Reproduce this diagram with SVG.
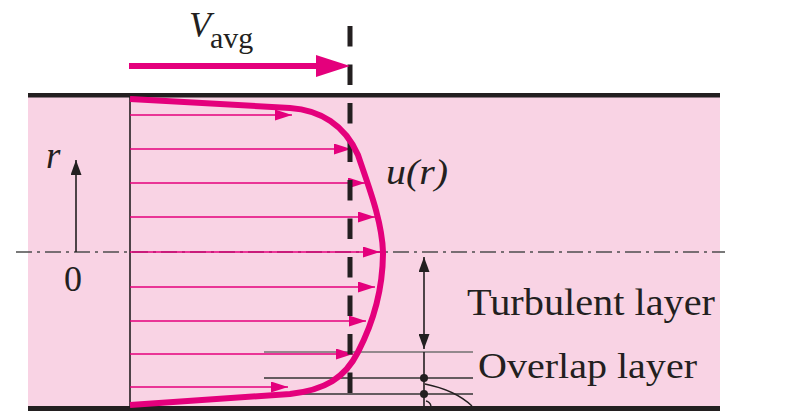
<svg xmlns="http://www.w3.org/2000/svg" width="792" height="411" viewBox="0 0 792 411">
<defs>
<style>
.txt{font-family:"Liberation Serif","Times New Roman",serif;fill:#231F20}
.it{font-style:italic}
.vel{stroke:#E4007C;stroke-width:1.6;fill:none}
.blk{stroke:#231F20;fill:none}
</style>
<marker id="mh" viewBox="0 0 17 11" refX="17" refY="5.5" markerWidth="17" markerHeight="11" markerUnits="userSpaceOnUse" orient="auto">
<path d="M0,0 L17,5.5 L0,11 Z" fill="#E4007C"/>
</marker>
<marker id="bh" viewBox="0 0 15 11" refX="15" refY="5.5" markerWidth="15" markerHeight="11" markerUnits="userSpaceOnUse" orient="auto">
<path d="M0,0 L15,5.5 L0,11 Z" fill="#231F20"/>
</marker>
</defs>
<rect width="792" height="411" fill="#FFFFFF"/>
<g id="pipe">
<rect x="28" y="97" width="692" height="310" fill="#F9D3E4"/>
<rect x="28" y="93" width="692" height="4.5" fill="#231F20"/>
<rect x="28" y="406" width="692" height="5" fill="#231F20"/>
<line x1="130" y1="97" x2="130" y2="406" stroke="#231F20" stroke-width="1.6"/>
<line x1="16" y1="252" x2="725" y2="252" stroke="#4d4d4d" stroke-width="1.4" stroke-dasharray="16 5 3 5"/>
</g>
<g id="layers">
<line x1="264" y1="352" x2="473" y2="352" stroke="#707070" stroke-width="1.6"/>
<line x1="264" y1="378" x2="473" y2="378" stroke="#333" stroke-width="1.6"/>
<line x1="264" y1="394" x2="473" y2="394" stroke="#333" stroke-width="1.6"/>
<path d="M425,384 Q455,390 472,406" class="blk" stroke-width="1.4"/>
<path d="M426,401 Q430,402 431,406" class="blk" stroke-width="1.4"/>
</g>
<g id="connectors">
<line x1="130" y1="115" x2="292" y2="115" class="vel" marker-end="url(#mh)"/>
<line x1="130" y1="149" x2="351" y2="149" class="vel" marker-end="url(#mh)"/>
<line x1="130" y1="183" x2="365" y2="183" class="vel" marker-end="url(#mh)"/>
<line x1="130" y1="217" x2="375" y2="217" class="vel" marker-end="url(#mh)"/>
<line x1="130" y1="252" x2="380" y2="252" class="vel" marker-end="url(#mh)"/>
<line x1="130" y1="287" x2="375" y2="287" class="vel" marker-end="url(#mh)"/>
<line x1="130" y1="321" x2="366" y2="321" class="vel" marker-end="url(#mh)"/>
<line x1="130" y1="354" x2="353" y2="354" class="vel" marker-end="url(#mh)"/>
<line x1="130" y1="387" x2="288" y2="387" class="vel" marker-end="url(#mh)"/>
<line x1="350" y1="26" x2="350" y2="393" stroke="#231F20" stroke-width="5" stroke-dasharray="20.5 18"/>
<path id="profile" d="M130,99 L290,108 C320,110 345,125 358,155 C368,185 382,220 383,252 C383,290 372,325 358,352 C345,378 325,390 290,394 L130,405" fill="none" stroke="#E4007C" stroke-width="6" stroke-linejoin="round"/>
<line x1="129" y1="66" x2="320" y2="66" stroke="#E4007C" stroke-width="6"/>
<path d="M316,55 L350,66 L316,77 Z" fill="#E4007C"/>
<line x1="76" y1="252" x2="76" y2="160" class="blk" stroke-width="1.6" marker-end="url(#bh)"/>
<line x1="424" y1="304" x2="424" y2="257" class="blk" stroke-width="1.6" marker-end="url(#bh)"/>
<line x1="424" y1="304" x2="424" y2="349" class="blk" stroke-width="1.6" marker-end="url(#bh)"/>
<line x1="424" y1="352" x2="424" y2="406" class="blk" stroke-width="1.6"/>
<circle cx="424" cy="378" r="4" fill="#231F20"/>
<circle cx="424" cy="394" r="4" fill="#231F20"/>
</g>
<g id="labels">
<text class="txt it" x="189" y="37" font-size="36">V</text>
<text class="txt" x="210" y="48" font-size="30">avg</text>
<text class="txt it" x="386" y="184" font-size="36" textLength="62" lengthAdjust="spacingAndGlyphs">u(r)</text>
<text class="txt it" x="46" y="168" font-size="37">r</text>
<text class="txt" x="73" y="291" font-size="36" text-anchor="middle">0</text>
<text class="txt" x="467" y="315" font-size="37" textLength="248" lengthAdjust="spacingAndGlyphs">Turbulent layer</text>
<text class="txt" x="478" y="378" font-size="35" textLength="219" lengthAdjust="spacingAndGlyphs">Overlap layer</text>
</g>
</svg>
